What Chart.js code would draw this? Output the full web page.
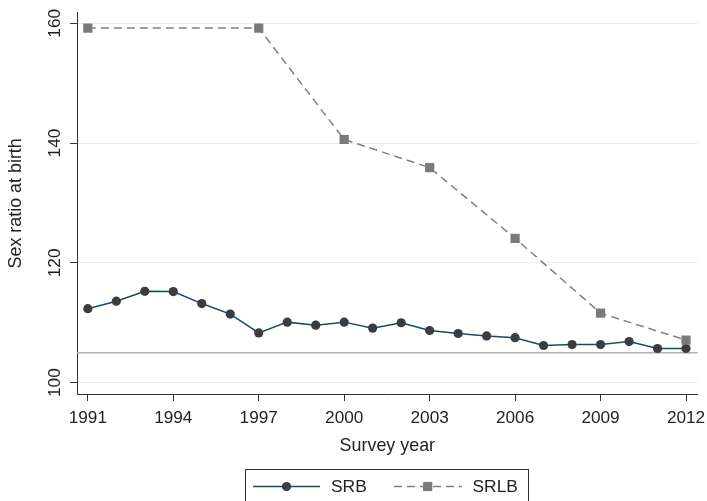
<!DOCTYPE html>
<html>
<head>
<meta charset="utf-8">
<script src="https://cdn.jsdelivr.net/npm/chart.js@4/dist/chart.umd.min.js"></script>
<style>
html,body{margin:0;padding:0;background:#fff;}
#wrap{width:707px;height:501px;position:relative;}
</style>
</head>
<body>
<div id="wrap"><canvas id="c" width="707" height="501"></canvas></div>
<script>
// ---- data ----
const srbYears = [1991,1992,1993,1994,1995,1996,1997,1998,1999,2000,2001,2002,2003,2004,2005,2006,2007,2008,2009,2010,2011,2012];
const srbValues = [112.35,113.6,115.25,115.2,113.2,111.45,108.3,110.1,109.6,110.1,109.1,110.0,108.7,108.2,107.8,107.5,106.2,106.35,106.35,106.85,105.7,105.7];
const srlbYears = [1991,1997,2000,2003,2006,2009,2012];
const srlbValues = [159.2,159.2,140.6,135.9,124.1,111.6,107.1];
const xTickLabels = [1991,1994,1997,2000,2003,2006,2009,2012];
const yTickLabels = [100,120,140,160];
const referenceValue = 105;
const seriesNames = ['SRB','SRLB'];
const xTitle = 'Survey year';
const yTitle = 'Sex ratio at birth';

const FONT = 'Liberation Sans, Arial, sans-serif';
const TEXT = '#222';
const SRB_LINE = '#1a476f';
const SRB_MARK = '#3c3c3c';
const SRLB_LINE = '#808080';
const SRLB_MARK = '#7a7a7a';

const refLinePlugin = {
  id: 'refLine',
  beforeDatasetsDraw(chart) {
    const {ctx, chartArea, scales} = chart;
    const y = scales.y.getPixelForValue(referenceValue);
    ctx.save();
    ctx.strokeStyle = '#b0b0b0';
    ctx.lineWidth = 1.6;
    ctx.beginPath();
    ctx.moveTo(chartArea.left, y);
    ctx.lineTo(chartArea.right, y);
    ctx.stroke();
    ctx.restore();
  }
};

const legendPlugin = {
  id: 'customLegend',
  afterDraw(chart) {
    const ctx = chart.ctx;
    ctx.save();
    ctx.strokeStyle = '#333';
    ctx.lineWidth = 1;
    ctx.strokeRect(245.5, 469.5, 283, 40);
    const cy = 486.5;
    ctx.strokeStyle = SRB_LINE;
    ctx.lineWidth = 1.5;
    ctx.beginPath(); ctx.moveTo(253, cy); ctx.lineTo(320, cy); ctx.stroke();
    ctx.fillStyle = SRB_MARK;
    ctx.beginPath(); ctx.arc(286.5, cy, 4.6, 0, Math.PI*2); ctx.fill();
    ctx.strokeStyle = SRLB_LINE;
    ctx.setLineDash([8,5]);
    ctx.beginPath(); ctx.moveTo(394, cy); ctx.lineTo(462, cy); ctx.stroke();
    ctx.setLineDash([]);
    ctx.fillStyle = SRLB_MARK;
    ctx.fillRect(427.7-4.6, cy-4.6, 9.2, 9.2);
    ctx.fillStyle = TEXT;
    ctx.font = '17.4px ' + FONT;
    ctx.textBaseline = 'middle';
    ctx.textAlign = 'left';
    ctx.fillText(seriesNames[0], 331, cy+0.5);
    ctx.fillText(seriesNames[1], 472.5, cy+0.5);
    ctx.restore();
  }
};

function noPad(scale) {
  scale.paddingLeft = 0; scale.paddingRight = 0; scale.paddingTop = 0; scale.paddingBottom = 0;
}

new Chart(document.getElementById('c'), {
  type: 'line',
  data: {
    datasets: [
      {
        label: seriesNames[0],
        data: srbYears.map((yr, i) => ({x: yr, y: srbValues[i]})),
        borderColor: SRB_LINE,
        borderWidth: 1.5,
        pointStyle: 'circle',
        pointRadius: 4.6,
        pointBackgroundColor: SRB_MARK,
        pointBorderColor: SRB_MARK,
        pointBorderWidth: 0,
        tension: 0,
        order: 2
      },
      {
        label: seriesNames[1],
        data: srlbYears.map((yr, i) => ({x: yr, y: srlbValues[i]})),
        borderColor: SRLB_LINE,
        borderWidth: 1.5,
        borderDash: [8,5],
        pointStyle: 'rect',
        pointRadius: 6.5,
        pointBackgroundColor: SRLB_MARK,
        pointBorderColor: SRLB_MARK,
        pointBorderWidth: 0,
        tension: 0,
        order: 1
      }
    ]
  },
  options: {
    responsive: false,
    animation: false,
    devicePixelRatio: 1,
    layout: { padding: { top: 12.7, right: 9.3, bottom: 43.8, left: 0 } },
    plugins: { legend: { display: false }, tooltip: { enabled: false } },
    scales: {
      x: {
        type: 'linear',
        min: 1990.62,
        max: 2012.41,
        afterBuildTicks(scale) { scale.ticks = xTickLabels.map(v => ({value: v})); },
        afterFit(scale) { scale.height = 63.2; noPad(scale); },
        grid: { drawOnChartArea: false, drawTicks: true, tickLength: 7, tickColor: '#333', color: '#333' },
        border: { display: true, color: '#333', width: 1 },
        ticks: { color: TEXT, font: { family: FONT, size: 17.2 }, padding: 7, maxRotation: 0, minRotation: 0,
                 callback: v => String(v) },
        title: { display: true, text: xTitle, color: TEXT, font: { family: FONT, size: 17.9 }, padding: 0 }
      },
      y: {
        min: 98.1,
        max: 161.77,
        afterBuildTicks(scale) { scale.ticks = yTickLabels.map(v => ({value: v})); },
        afterFit(scale) { scale.width = 77; noPad(scale); },
        grid: { drawOnChartArea: true, color: '#ececec', lineWidth: 1, drawTicks: true, tickLength: 7, tickColor: '#333' },
        border: { display: true, color: '#333', width: 1 },
        ticks: { color: TEXT, font: { family: FONT, size: 17.2 }, padding: 0, minRotation: 90, maxRotation: 90,
                 crossAlign: 'center', callback: v => String(v) },
        title: { display: true, text: yTitle, color: TEXT, font: { family: FONT, size: 17.9 }, padding: 5 }
      }
    }
  },
  plugins: [refLinePlugin, legendPlugin]
});
</script>
</body>
</html>
